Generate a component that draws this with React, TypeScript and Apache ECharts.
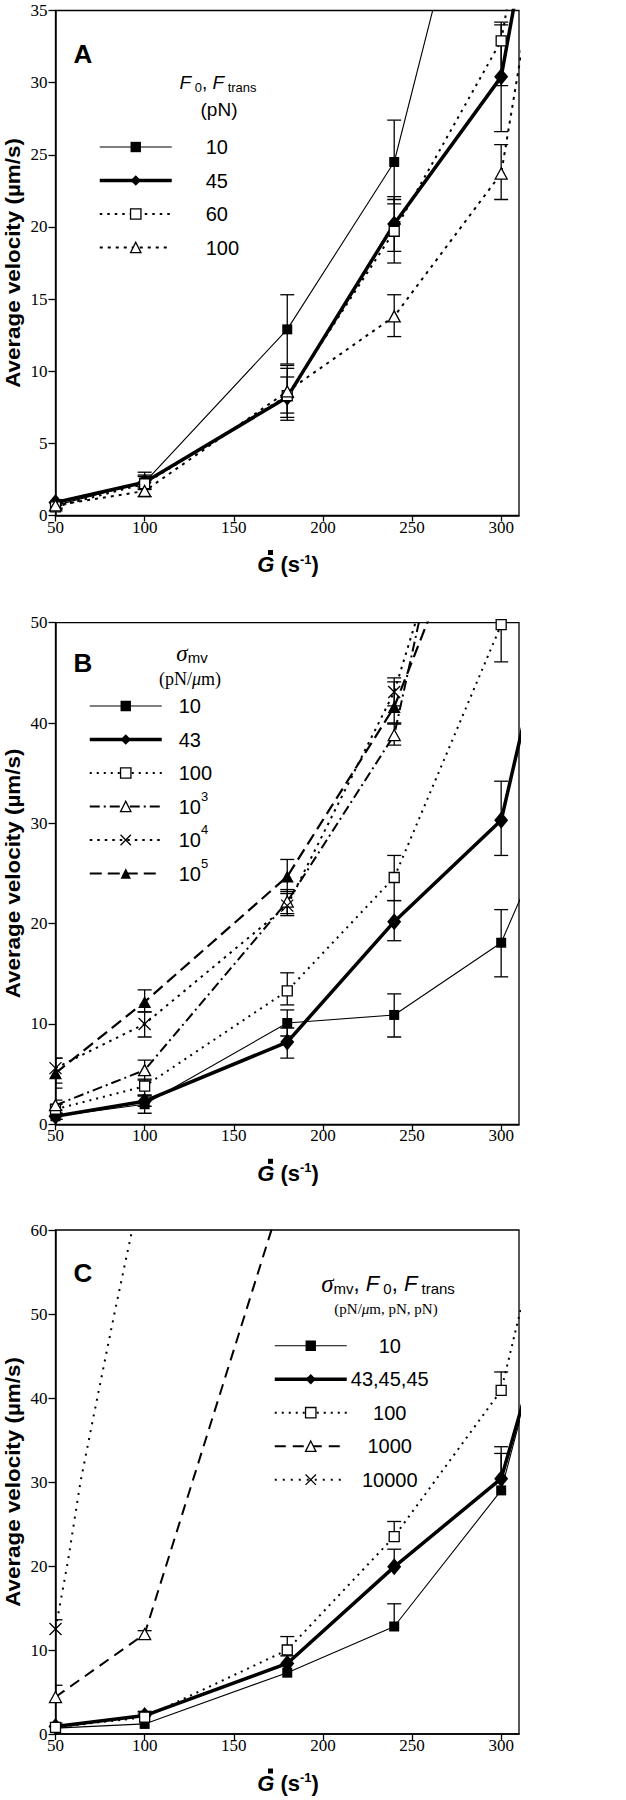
import React, { useEffect, useRef } from "react";
import * as echarts from "echarts";

// ---------- data ----------
const SHEAR = [50, 100, 180, 240, 300, 320]; // last value lies beyond the axis end
const SHEAR_TICKS = [50, 100, 150, 200, 250, 300];
const MARKED = [50, 100, 180, 240, 300];

// Panel A: F0, Ftrans (pN)
const A_LABELS = ["10", "45", "60", "100"];
const A_10 = [0.7, 2.3, 12.9, 24.5, 53.7];
const A_10_LO = [0.5, 1.9, 10.5, 21.6, null];
const A_10_HI = [0.9, 2.7, 15.3, 27.4, null];
const A_45 = [0.9, 2.3, 8.2, 20.2, 30.4, 44.0];
const A_45_LO = [0.7, 2.0, 6.8, 18.3, 26.6];
const A_45_HI = [1.1, 2.8, 9.6, 22.1, 34.2];
const A_60 = [0.6, 2.2, 8.3, 19.7, 32.9, 46.9];
const A_60_LO = [0.4, 1.8, 7.1, 17.5, 29.8];
const A_60_HI = [0.8, 3.0, 10.2, 21.9, 34.0];
const A_100 = [0.7, 1.7, 8.6, 13.8, 23.7, 38.5];
const A_100_LO = [0.5, 1.3, 6.6, 12.4, 21.9];
const A_100_HI = [0.9, 2.0, 10.4, 15.3, 25.7];

// Panel B: sigma_mv (pN/um)
const B_LABELS = ["10", "43", "100", "10^3", "10^4", "10^5"];
const B_10 = [0.8, 2.0, 10.1, 10.9, 18.1, 26.3];
const B_10_LO = [0.5, 1.1, 8.8, 8.7, 14.7];
const B_10_HI = [1.1, 2.9, 11.4, 13.0, 21.4];
const B_43 = [0.8, 2.3, 8.2, 20.2, 30.3, 45.7];
const B_43_LO = [0.5, 1.8, 6.6, 18.3, 26.8];
const B_43_HI = [1.1, 2.8, 9.6, 22.3, 34.2];
const B_100 = [1.5, 3.8, 13.3, 24.6, 49.8];
const B_100_LO = [1.0, 2.9, 11.9, 22.3, 46.1];
const B_100_HI = [2.0, 4.5, 15.1, 26.8, 53.5];
const B_1E3 = [1.9, 5.4, 22.2, 38.8, 87.5];
const B_1E3_LO = [1.4, 4.4, 21.0, 37.8];
const B_1E3_HI = [2.4, 6.4, 23.4, 39.9];
const B_1E4 = [5.6, 10.0, 21.8, 43.1, 77.9];
const B_1E4_LO = [4.1, 8.7, 20.8, 41.7];
const B_1E4_HI = [6.6, 11.2, 23.0, 44.5];
const B_1E5 = [5.1, 12.2, 24.7, 41.6, 68.8];
const B_1E5_LO = [3.6, 11.2, 23.2, 40.0];
const B_1E5_HI = [6.6, 13.4, 26.4, 44.1];

// Panel C: sigma_mv, F0, Ftrans (pN/um, pN, pN)
const C_LABELS = ["10", "43,45,45", "100", "1000", "10000"];
const C_10 = [0.7, 1.2, 7.3, 12.8, 29.0, 45.0];
const C_10_HI = [null, null, null, 15.5, 33.4];
const C_43 = [0.9, 2.2, 8.4, 19.9, 30.4, 45.2];
const C_43_HI = [1.3, 2.7, 9.3, 22.0, 34.2];
const C_100 = [0.8, 2.0, 10.0, 23.5, 40.9, 58.5];
const C_100_HI = [null, 2.5, 11.6, 25.3, 43.1];
const C_1000_X = [50, 100, 180];
const C_1000 = [4.4, 11.9, 66.0];
const C_1000_HI = [5.8, 12.3];
const C_1E4_X = [50, 57, 64, 72, 83, 92, 100];
const C_1E4 = [12.5, 20.6, 30.0, 38.5, 50.0, 59.0, 67.0];
const C_1E4_HI = [13.6];

// ---------- styling ----------
const SANS = "Liberation Sans";
const SERIF = "Liberation Serif";
const CROSS = "path://M0,0L10,10M10,0L0,10";

type Spec = {
  id: string;
  grid: number;
  xs: number[];
  ys: number[];
  symbol: string;
  size: number | number[];
  open: boolean;
  width: number;
  dash: any;
};

const SPECS: Spec[] = [
  { id: "A:" + A_LABELS[0], grid: 0, xs: SHEAR, ys: A_10, symbol: "rect", size: 10, open: false, width: 1.1, dash: "solid" },
  { id: "A:" + A_LABELS[1], grid: 0, xs: SHEAR, ys: A_45, symbol: "diamond", size: [14, 17], open: false, width: 3.5, dash: "solid" },
  { id: "A:" + A_LABELS[2], grid: 0, xs: SHEAR, ys: A_60, symbol: "rect", size: 10, open: true, width: 2, dash: [2.5, 5] },
  { id: "A:" + A_LABELS[3], grid: 0, xs: SHEAR, ys: A_100, symbol: "triangle", size: [12, 11], open: true, width: 2, dash: [3, 5] },

  { id: "B:" + B_LABELS[0], grid: 1, xs: SHEAR, ys: B_10, symbol: "rect", size: 10, open: false, width: 1.1, dash: "solid" },
  { id: "B:" + B_LABELS[1], grid: 1, xs: SHEAR, ys: B_43, symbol: "diamond", size: [14, 17], open: false, width: 3.5, dash: "solid" },
  { id: "B:" + B_LABELS[2], grid: 1, xs: SHEAR, ys: B_100, symbol: "rect", size: 10, open: true, width: 2, dash: [2, 5] },
  { id: "B:" + B_LABELS[3], grid: 1, xs: SHEAR, ys: B_1E3, symbol: "triangle", size: [12, 11], open: true, width: 2, dash: [10, 4, 2, 4] },
  { id: "B:" + B_LABELS[4], grid: 1, xs: SHEAR, ys: B_1E4, symbol: CROSS, size: 12, open: true, width: 2, dash: [2.5, 5] },
  { id: "B:" + B_LABELS[5], grid: 1, xs: SHEAR, ys: B_1E5, symbol: "triangle", size: [13, 12], open: false, width: 2.2, dash: [12, 6] },

  { id: "C:" + C_LABELS[0], grid: 2, xs: SHEAR, ys: C_10, symbol: "rect", size: 10, open: false, width: 1.1, dash: "solid" },
  { id: "C:" + C_LABELS[1], grid: 2, xs: SHEAR, ys: C_43, symbol: "diamond", size: [14, 17], open: false, width: 3.5, dash: "solid" },
  { id: "C:" + C_LABELS[2], grid: 2, xs: SHEAR, ys: C_100, symbol: "rect", size: 10, open: true, width: 2, dash: [2, 5] },
  { id: "C:" + C_LABELS[3], grid: 2, xs: C_1000_X, ys: C_1000, symbol: "triangle", size: [12, 11], open: true, width: 2, dash: [11, 7] },
  { id: "C:" + C_LABELS[4], grid: 2, xs: C_1E4_X, ys: C_1E4, symbol: CROSS, size: 12, open: true, width: 2, dash: [2, 6] },
];

function barRows(xs: number[], ys: number[], lo: (number | null)[] | null, hi: (number | null)[], capLow: boolean) {
  const rows: number[][] = [];
  hi.forEach((h, i) => {
    if (h == null) return;
    const l = lo ? (lo[i] as number) : ys[i];
    rows.push([xs[i], l, h, capLow ? 1 : 0]);
  });
  return rows;
}

const BARS = [
  [
    ...barRows(SHEAR, A_10, A_10_LO, A_10_HI, true),
    ...barRows(SHEAR, A_45, A_45_LO, A_45_HI, true),
    ...barRows(SHEAR, A_60, A_60_LO, A_60_HI, true),
    ...barRows(SHEAR, A_100, A_100_LO, A_100_HI, true),
  ],
  [
    ...barRows(SHEAR, B_10, B_10_LO, B_10_HI, true),
    ...barRows(SHEAR, B_43, B_43_LO, B_43_HI, true),
    ...barRows(SHEAR, B_100, B_100_LO, B_100_HI, true),
    ...barRows(SHEAR, B_1E3, B_1E3_LO, B_1E3_HI, true),
    ...barRows(SHEAR, B_1E4, B_1E4_LO, B_1E4_HI, true),
    ...barRows(SHEAR, B_1E5, B_1E5_LO, B_1E5_HI, true),
  ],
  [
    ...barRows(SHEAR, C_10, null, C_10_HI, false),
    ...barRows(SHEAR, C_43, null, C_43_HI, false),
    ...barRows(SHEAR, C_100, null, C_100_HI, false),
    ...barRows(C_1000_X, C_1000, null, C_1000_HI, false),
    ...barRows(C_1E4_X, C_1E4, null, C_1E4_HI, false),
  ],
];

const GRIDS = [
  { top: 10.5, height: 505, ymax: 35, yint: 5 },
  { top: 622.7, height: 501.6, ymax: 50, yint: 10 },
  { top: 1230, height: 504, ymax: 60, yint: 10 },
];
const GRID_LEFT = 55.5;
const GRID_WIDTH = 463.5;

function itemStyleOf(s: Spec) {
  return s.open
    ? { color: "#fff", borderColor: "#000", borderWidth: 1.3 }
    : { color: "#000", borderColor: "#000", borderWidth: 0 };
}

function renderBar(params: any, api: any) {
  const x = api.value(0);
  const lo = api.value(1);
  const hi = api.value(2);
  const capLow = api.value(3);
  const pLo = api.coord([x, lo]);
  const pHi = api.coord([x, hi]);
  const hw = 7;
  const st = { stroke: "#000", lineWidth: 1.3 };
  const children: any[] = [
    { type: "line", shape: { x1: pLo[0], y1: pLo[1], x2: pHi[0], y2: pHi[1] }, style: st },
    { type: "line", shape: { x1: pHi[0] - hw, y1: pHi[1], x2: pHi[0] + hw, y2: pHi[1] }, style: st },
  ];
  if (capLow) {
    children.push({ type: "line", shape: { x1: pLo[0] - hw, y1: pLo[1], x2: pLo[0] + hw, y2: pLo[1] }, style: st });
  }
  return { type: "group", children };
}

function labelOf(id: string) {
  return id.split(":")[1];
}

function buildOption(): any {
  const grid = GRIDS.map((g) => ({
    left: GRID_LEFT,
    width: GRID_WIDTH,
    top: g.top,
    height: g.height,
    show: true,
    borderColor: "#000",
    borderWidth: 1.3,
    backgroundColor: "transparent",
  }));
  const axisLine = { lineStyle: { color: "#000", width: 1.5 } };
  const xAxis = GRIDS.map((_, i) => ({
    type: "value",
    gridIndex: i,
    min: 50,
    max: 310,
    interval: 50,
    axisLine,
    axisTick: { length: 6, lineStyle: { color: "#000", width: 1.3 } },
    axisLabel: {
      color: "#000",
      fontFamily: SERIF,
      fontSize: 17,
      margin: 3,
      showMaxLabel: false,
      formatter: (v: number) => (SHEAR_TICKS.includes(v) ? String(v) : ""),
    },
    splitLine: { show: false },
  }));
  const yAxis = GRIDS.map((g, i) => ({
    type: "value",
    gridIndex: i,
    min: 0,
    max: g.ymax,
    interval: g.yint,
    axisLine,
    axisTick: { length: 7, lineStyle: { color: "#000", width: 1.3 } },
    axisLabel: { color: "#000", fontFamily: SERIF, fontSize: 17, margin: 8 },
    splitLine: { show: false },
  }));

  const series: any[] = SPECS.map((s) => ({
    type: "line",
    name: s.id,
    xAxisIndex: s.grid,
    yAxisIndex: s.grid,
    symbol: s.symbol,
    symbolSize: s.size,
    showAllSymbol: true,
    clip: true,
    silent: true,
    lineStyle: { color: "#000", width: s.width, type: s.dash },
    itemStyle: itemStyleOf(s),
    data: s.xs.slice(0, s.ys.length).map((x, i) => ({
      value: [x, s.ys[i]],
      symbol: MARKED.includes(x) ? s.symbol : "none",
    })),
  }));

  BARS.forEach((rows, i) => {
    series.push({
      type: "custom",
      name: "err" + i,
      xAxisIndex: i,
      yAxisIndex: i,
      clip: true,
      silent: true,
      z: 3,
      renderItem: renderBar,
      encode: { x: 0, y: [1, 2] },
      data: rows,
    });
  });

  const legendItem = (s: Spec) => ({
    name: s.id,
    itemStyle: itemStyleOf(s),
    lineStyle: { color: "#000", width: s.width, type: s.dash },
  });
  const LH = 33.5;
  const legend = [
    {
      orient: "vertical",
      left: 98,
      top: 147 - LH / 2,
      padding: 0,
      itemGap: 0,
      itemWidth: 72,
      itemHeight: 13,
      selectedMode: false,
      data: SPECS.filter((s) => s.grid === 0).map(legendItem),
      formatter: (name: string) => `{a|${labelOf(name)}}`,
      textStyle: {
        color: "#000",
        fontFamily: SANS,
        fontSize: 20,
        lineHeight: LH,
        rich: { a: { fontFamily: SANS, fontSize: 20, lineHeight: LH, padding: [0, 0, 0, 29] } },
      },
    },
    {
      orient: "vertical",
      left: 88,
      top: 706 - LH / 2,
      padding: 0,
      itemGap: 0,
      itemWidth: 72,
      itemHeight: 13,
      selectedMode: false,
      data: SPECS.filter((s) => s.grid === 1).map(legendItem),
      formatter: (name: string) => {
        const l = labelOf(name);
        if (l.includes("^")) {
          const [b, e] = l.split("^");
          return `{b|${b}}{s|${e}}`;
        }
        return `{b|${l}}`;
      },
      textStyle: {
        color: "#000",
        fontFamily: SANS,
        fontSize: 20,
        lineHeight: LH,
        rich: {
          b: { fontFamily: SANS, fontSize: 20, lineHeight: LH, padding: [0, 0, 0, 12] },
          s: { fontFamily: SANS, fontSize: 13, lineHeight: 13, verticalAlign: "top" },
        },
      },
    },
    {
      orient: "vertical",
      left: 273,
      top: 1345.7 - LH / 2,
      padding: 0,
      itemGap: 0,
      itemWidth: 72,
      itemHeight: 13,
      selectedMode: false,
      data: SPECS.filter((s) => s.grid === 2).map(legendItem),
      formatter: (name: string) => `{c|${labelOf(name)}}`,
      textStyle: {
        color: "#000",
        fontFamily: SANS,
        fontSize: 20,
        lineHeight: LH,
        rich: { c: { fontFamily: SANS, fontSize: 20, lineHeight: LH, width: 76, align: "center" } },
      },
    },
  ];

  const graphic: any[] = [];
  const letters = [
    { t: "A", y: 54 },
    { t: "B", y: 663 },
    { t: "C", y: 1272.5 },
  ];
  letters.forEach((l) =>
    graphic.push({
      type: "text",
      x: 83,
      y: l.y,
      style: { text: l.t, fontFamily: SANS, fontWeight: "bold", fontSize: 26, fill: "#000", align: "center", verticalAlign: "middle" },
    })
  );

  GRIDS.forEach((g) => {
    const cy = g.top + g.height / 2;
    graphic.push({
      type: "text",
      x: 13,
      y: cy,
      rotation: Math.PI / 2,
      scaleX: 1.12,
      style: {
        text: "Average velocity (\u00b5m/s)",
        fontFamily: SANS,
        fontWeight: "bold",
        fontSize: 20,
        fill: "#000",
        align: "center",
        verticalAlign: "middle",
      },
    });
    const by = g.top + g.height;
    graphic.push({
      type: "text",
      x: 288,
      y: by + 49,
      style: {
        text: "{g|G}{n| (s}{sup|-1}{n|)}",
        align: "center",
        verticalAlign: "middle",
        fill: "#000",
        rich: {
          g: { fontFamily: SANS, fontWeight: "bold", fontStyle: "italic", fontSize: 22, lineHeight: 24 },
          n: { fontFamily: SANS, fontWeight: "bold", fontSize: 22, lineHeight: 24 },
          sup: { fontFamily: SANS, fontWeight: "bold", fontSize: 13, lineHeight: 13, verticalAlign: "top" },
        },
      },
    });
    graphic.push({
      type: "rect",
      shape: { x: 268, y: by + 34.5, width: 5, height: 5 },
      style: { fill: "#000" },
    });
  });

  // legend titles
  const subRich = (fs: number, sub: number) => ({
    F: { fontFamily: SANS, fontStyle: "italic", fontSize: fs, lineHeight: fs + 4 },
    s: { fontFamily: SANS, fontSize: sub, lineHeight: sub - 2, verticalAlign: "bottom" },
    n: { fontFamily: SANS, fontSize: fs, lineHeight: fs + 4 },
    sig: { fontFamily: SERIF, fontStyle: "italic", fontSize: fs + 3, lineHeight: fs + 4 },
    mv: { fontFamily: SANS, fontSize: sub, lineHeight: sub - 2, verticalAlign: "bottom" },
  });
  graphic.push({
    type: "text",
    x: 218,
    y: 82,
    style: { text: "{F|F}{s| 0}{n|, }{F|F}{s| trans}", align: "center", verticalAlign: "middle", fill: "#000", rich: subRich(19, 13) },
  });
  graphic.push({
    type: "text",
    x: 219,
    y: 109,
    style: { text: "(pN)", fontFamily: SANS, fontSize: 19, fill: "#000", align: "center", verticalAlign: "middle" },
  });
  graphic.push({
    type: "text",
    x: 192,
    y: 653,
    style: { text: "{sig|\u03c3}{mv|mv}", align: "center", verticalAlign: "middle", fill: "#000", rich: subRich(20, 15) },
  });
  graphic.push({
    type: "text",
    x: 190,
    y: 679,
    style: {
      text: "{n|(pN/}{mu|\u03bc}{n|m)}",
      align: "center",
      verticalAlign: "middle",
      fill: "#000",
      rich: {
        n: { fontFamily: SERIF, fontSize: 18, lineHeight: 20 },
        mu: { fontFamily: SERIF, fontStyle: "italic", fontSize: 18, lineHeight: 20 },
      },
    },
  });
  graphic.push({
    type: "text",
    x: 388,
    y: 1283,
    style: {
      text: "{sig|\u03c3}{mv|mv}{n|, }{F|F}{s| 0}{n|, }{F|F}{s| trans}",
      align: "center",
      verticalAlign: "middle",
      fill: "#000",
      rich: subRich(22, 15),
    },
  });
  graphic.push({
    type: "text",
    x: 386,
    y: 1309,
    style: {
      text: "{n|(pN/}{mu|\u03bc}{n|m, pN, pN)}",
      align: "center",
      verticalAlign: "middle",
      fill: "#000",
      rich: {
        n: { fontFamily: SERIF, fontSize: 15, lineHeight: 17 },
        mu: { fontFamily: SERIF, fontStyle: "italic", fontSize: 15, lineHeight: 17 },
      },
    },
  });

  return {
    animation: false,
    backgroundColor: "#fff",
    grid,
    xAxis,
    yAxis,
    legend,
    series,
    graphic,
  };
}

export default function App() {
  const ref = useRef<HTMLDivElement>(null);
  useEffect(() => {
    document.body.style.margin = "0";
    document.body.style.overflow = "hidden";
    const chart = echarts.init(ref.current as HTMLDivElement, undefined, { renderer: "svg" });
    chart.setOption(buildOption());
    return () => chart.dispose();
  }, []);
  return <div ref={ref} style={{ width: 626, height: 1800 }} />;
}
